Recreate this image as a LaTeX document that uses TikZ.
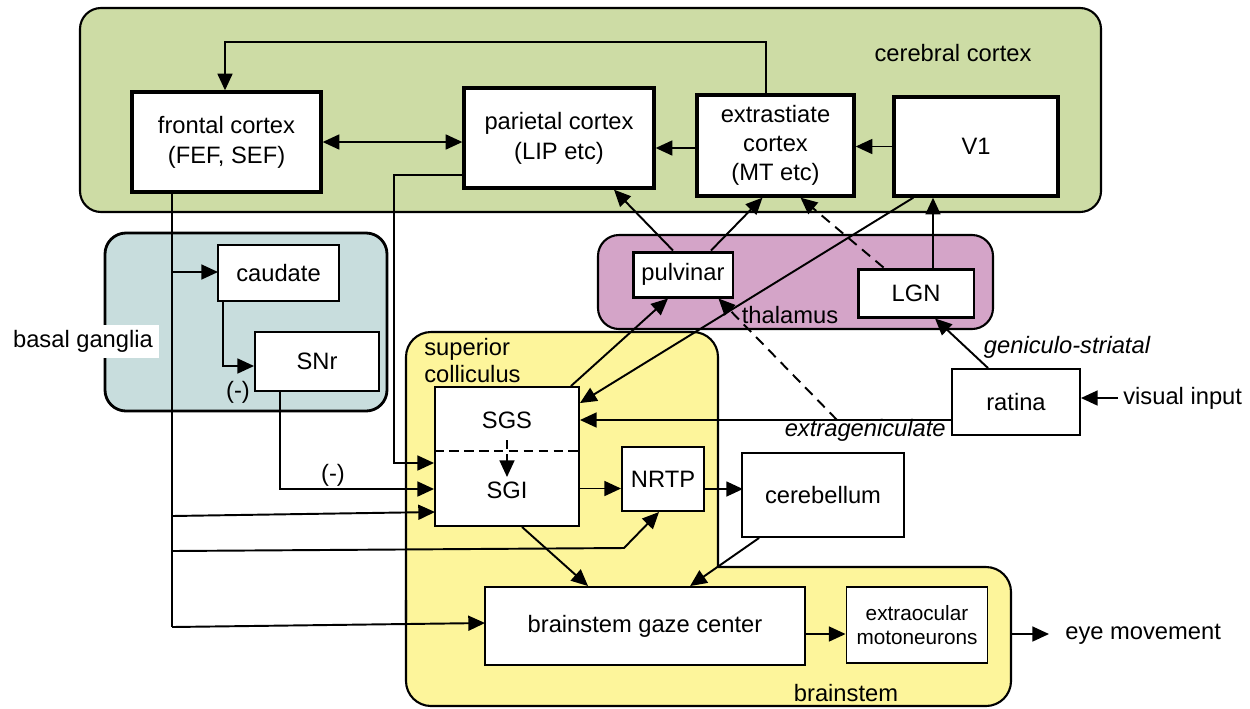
\documentclass[tikz,border=0pt]{standalone}
\usepackage{fontspec}
\setmainfont{Liberation Sans}
\usetikzlibrary{arrows.meta,calc}
\definecolor{cgreen}{RGB}{205,220,165}
\definecolor{cteal}{RGB}{200,221,221}
\definecolor{cpink}{RGB}{212,164,200}
\definecolor{cyellow}{RGB}{253,245,155}
\begin{document}
\begin{tikzpicture}[x=0.02cm,y=-0.02cm,
  every node/.style={inner sep=0pt, align=center, font=\fontsize{13.5}{17}\selectfont},
  region/.style={draw=black, line width=1.2pt, rounded corners=0.42cm},
  bigbox/.style={draw, fill=white, line width=1.9pt},
  smallbox/.style={draw, fill=white, line width=1.1pt},
  >={Triangle[length=9.5pt,width=8.5pt]},
  conn/.style={line width=1.1pt},
  arr/.style={conn, ->},
  dasharr/.style={conn, ->, dash pattern=on 6pt off 4pt},
  itlabel/.style={font=\fontsize{13.5}{17}\selectfont\itshape},
]
\useasboundingbox (0,0) rectangle (1250,708);
\fill[white] (0,0) rectangle (1250,708);

% regions
\draw[region, fill=cgreen] (80,8) rectangle (1101,212);
\draw[region, fill=cteal, line width=1.6pt] (105,233) rectangle (387,411);
\draw[region, fill=cpink] (598,235) rectangle (993,329);
\fill[cyellow, rounded corners=0.5cm] (406,332) rectangle (718,706);
\fill[cyellow, rounded corners=0.5cm] (406,567) rectangle (1011,706);
\draw[region, rounded corners=0.5cm] (406,620) -- (406,332) -- (718,332) -- (718,567);
\draw[region, rounded corners=0.5cm] (718,567) -- (1011,567) -- (1011,706) -- (406,706) -- (406,600);

% region labels
\node (cc) at (953,53) {cerebral cortex};
\node[fill=white, minimum width=3.04cm, minimum height=0.66cm] (bg) at (83,341.5) {basal ganglia};
\node (thal) at (790,315) {thalamus};
\node[anchor=west, align=left, font=\fontsize{13.5}{15.5}\selectfont] (scl) at (424,360.5) {superior\\colliculus};
\node (bs) at (846,693) {brainstem};

% coordinates
\coordinate (tr) at (172,0);
\coordinate (t2) at (172,516);
\coordinate (t3) at (172,551);
\coordinate (t4) at (172,627);
\coordinate (k3) at (624,548);

% connectors (drawn before boxes)
\draw[conn] (t4) -- (172,192);
\draw[arr] (172,272) -- (218,272);
\draw[arr] (t2) -- (435,512);
\draw[arr] (t3) -- (k3) -- (659,512);
\draw[arr] (t4) -- (485,623);

% boxes
\node[bigbox, minimum width=3.78cm, minimum height=2cm] (frontal) at (226.5,142) {frontal cortex\\(FEF, SEF)};
\node[bigbox, minimum width=3.8cm, minimum height=2cm] (parietal) at (559,138) {parietal cortex\\(LIP etc)};
\node[bigbox, minimum width=3.14cm, minimum height=2.02cm, font=\fontsize{13.5}{16.5}\selectfont] (extra) at (775.5,145.5) {extrastiate\\cortex\\(MT etc)};
\node[bigbox, minimum width=3.28cm, minimum height=1.98cm] (v1) at (976,146.5) {V1};
\node[smallbox, minimum width=2.42cm, minimum height=1.12cm] (caud) at (278.5,273) {caudate};
\node[smallbox, minimum width=2.48cm, minimum height=1.18cm] (snr) at (317,361.5) {\raisebox{-1ex}{SNr}};
\node[bigbox, line width=1.7pt, minimum width=2cm, minimum height=0.9cm] (pulv) at (683,274.5) {pulvinar};
\node[bigbox, line width=1.7pt, minimum width=2.32cm, minimum height=0.96cm] (lgn) at (916,293) {LGN};
\node[smallbox, minimum width=2.88cm, minimum height=2.78cm] (sc) at (507,456.5) {};
\node (sgs) at (507,420) {SGS};
\node (sgi) at (507,490) {SGI};
\node[smallbox, minimum width=1.64cm, minimum height=1.28cm] (nrtp) at (663,479) {NRTP};
\node[smallbox, minimum width=3.24cm, minimum height=1.68cm] (cereb) at (823,495) {cerebellum};
\node[smallbox, minimum width=6.4cm, minimum height=1.56cm] (gaze) at (645,626) {brainstem gaze center};
\node[smallbox, minimum width=2.82cm, minimum height=1.52cm, font=\fontsize{11.8}{13.2}\selectfont] (eom) at (917,625) {extraocular\\motoneurons};
\node[smallbox, minimum width=2.56cm, minimum height=1.32cm] (ret) at (1016,402) {ratina};
\node[anchor=west] (vin) at (1123,398) {visual input};
\node[anchor=west] (eye) at (1065,634) {eye movement};
\node[itlabel] (gs) at (1067,347) {geniculo-striatal};
\node[itlabel, anchor=east] (eg) at (946,430) {extrageniculate};
\node (m1) at (238,392) {(-)};
\node (m2) at (333,475) {(-)};

\coordinate (r1) at ($(ret.west)+(0,18)$);
\coordinate (egb) at ($(r1)+(-114,0)$);
\coordinate (bsr) at (1011,634);

% cortex connectors
\draw[arr] ($(extra.north)+(-9.5,0)$) |- ($(frontal.north)+(-1.5,-48)$) -- ($(frontal.north)+(-1.5,0)$);
\draw[conn, <->] (frontal.east) -- (frontal.east -| parietal.west);
\draw[arr] ($(extra.west)+(0,2.5)$) -- ($(parietal.east)+(0,10)$);
\draw[arr] (v1.west) -- (v1.west -| extra.east);
\draw[arr] ($(pulv.north)+(-10,0)$) -- ($(parietal.south)+(55,0)$);
\draw[arr] ($(pulv.north)+(28,0)$) -- ($(extra.south)+(-13,0)$);
\draw[dasharr] ($(lgn.north west)+(27,0)$) -- ($(extra.south)+(25,0)$);
\draw[arr] ($(lgn.north)+(17,0)$) -- ($(v1.south)+(-43,0)$);
\draw[arr] ($(ret.north)+(-28,0)$) -- ($(lgn.south)+(19,0)$);
\draw[arr] ($(vin.west)+(-5,0)$) -- (ret.east |- vin.west);
\draw[arr] (r1) -- (r1 -| sc.east);
\draw[dasharr] (egb) -- ($(pulv.south east)+(-16,0)$);
\draw[arr] ($(v1.south west)+(21,0)$) -- ($(sc.north east)+(0,17)$);
\draw[arr] ($(sc.north east)+(-9,0)$) -- ($(pulv.south)+(-15,0)$);

% SC inputs
\draw[arr] ($(parietal.west)+(0,37)$) -| ($(sc.west)+(-40,6.5)$) -- ($(sc.west)+(0,6.5)$);
\draw[arr] ($(snr.south)+(-37,0)$) |- ($(sc.west)+(0,32.5)$);
\draw[arr] ($(caud.south west)+(6,0)$) |- ($(snr.west)+(0,4.5)$);

% SC internal
\draw[conn, dash pattern=on 5.5pt off 3pt] ($(sc.west)+(0,-5.5)$) -- ($(sc.east)+(0,-5.5)$);
\draw[conn, ->, dash pattern=on 5pt off 3pt] ($(sgs.center)+(0,20)$) -- ($(sgi.center)+(0,-13)$);

% lower connectors
\draw[arr] ($(sc.east)+(0,32)$) -- ($(nrtp.west)+(0,9.5)$);
\draw[arr] ($(nrtp.east)+(0,10)$) -- ($(nrtp.east)+(38,10)$);
\draw[arr] ($(sc.south)+(15,0)$) -- ($(gaze.north west)+(104,0)$);
\draw[arr] ($(cereb.south west)+(18,0)$) -- ($(gaze.north west)+(206,0)$);
\draw[arr] ($(gaze.east)+(0,8)$) -- ($(eom.west)+(0,9)$);
\draw[arr] (bsr) -- ($(eye.west)+(-16,0)$);
\end{tikzpicture}
\end{document}
